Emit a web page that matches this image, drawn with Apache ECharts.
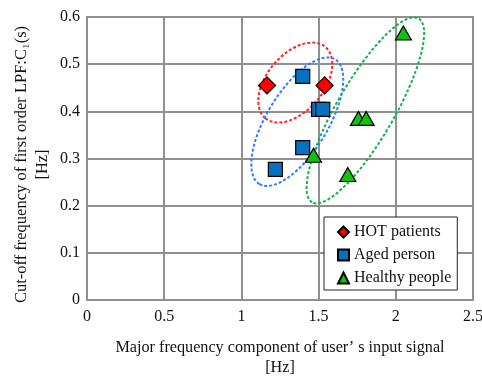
<!DOCTYPE html>
<html>
<head>
<meta charset="utf-8">
<script src="https://cdn.jsdelivr.net/npm/echarts@6/dist/echarts.min.js"></script>
<style>
html,body{margin:0;padding:0;background:#fff;}
#main{width:482px;height:376px;}
</style>
</head>
<body>
<div id="main"></div>
<script>
// tick labels
var xTicks = ['0', '0.5', '1', '1.5', '2', '2.5'];
var yTicks = ['0', '0.1', '0.2', '0.3', '0.4', '0.5', '0.6'];

// HOT patients
var hotX = [1.166, 1.539];
var hotY = [0.455, 0.455];
// Aged person
var agedX = [1.397, 1.500, 1.527, 1.397, 1.220];
var agedY = [0.474, 0.404, 0.404, 0.323, 0.277];
// Healthy people
var healthyX = [2.049, 1.758, 1.808, 1.467, 1.689];
var healthyY = [0.566, 0.385, 0.385, 0.307, 0.266];

var seriesNames = ['HOT patients', 'Aged person', 'Healthy people'];

// group ellipses: centre (data), semi axes and tilt
var ellCx = [1.349, 1.362, 1.803];
var ellCy = [0.461, 0.378, 0.402];
var ellA = [46.6, 72.9, 106.2];
var ellB = [28.2, 30.5, 28.7];
var ellDeg = [49.8, 58.7, 59.9];
var ellColor = ['#ff2222', '#2a7fff', '#14b050'];

function pairs(xs, ys) {
	var out = [];
	for (var i = 0; i < xs.length; i++) {
		out.push([xs[i], ys[i]]);
	}
	return out;
}

var fnt = 'Liberation Serif';
var chart = echarts.init(document.getElementById('main'));

var option = {
	animation: false,
	textStyle: { fontFamily: fnt },
	grid: {
		left: 87,
		right: 9,
		top: 17,
		bottom: 76,
		show: true,
		outerBoundsMode: 'none',
		borderColor: '#909090',
		borderWidth: 2
	},
	xAxis: {
		type: 'value',
		min: 0,
		max: 2.5,
		interval: 0.5,
		name: 'Major frequency component of user\u2019 s input signal\n[Hz]',
		nameLocation: 'middle',
		nameGap: 38,
		nameMoveOverlap: false,
		nameTextStyle: { fontFamily: fnt, fontSize: 16.2, color: '#111', lineHeight: 20 },
		axisLine: { lineStyle: { color: '#909090', width: 2 } },
		axisTick: { show: false },
		axisLabel: {
			margin: 9,
			fontFamily: fnt,
			fontSize: 16,
			color: '#111',
			formatter: function(v) {
				return xTicks[Math.round(v / 0.5)];
			}
		},
		splitLine: { lineStyle: { color: '#909090', width: 2 } }
	},
	yAxis: {
		type: 'value',
		min: 0,
		max: 0.6,
		interval: 0.1,
		name: 'Cut-off frequency of first order LPF:C\u2081(s)\n[Hz]',
		nameLocation: 'middle',
		nameGap: 34,
		nameMoveOverlap: false,
		nameTextStyle: { fontFamily: fnt, fontSize: 16.5, color: '#111', lineHeight: 21, padding: [0, 12, 0, 0] },
		axisLine: { show: true, lineStyle: { color: '#909090', width: 2 } },
		axisTick: { show: false },
		axisLabel: {
			margin: 7,
			fontFamily: fnt,
			fontSize: 16,
			color: '#111',
			formatter: function(v) {
				return yTicks[Math.round(v / 0.1)];
			}
		},
		splitLine: { lineStyle: { color: '#909090', width: 2 } }
	},
	legend: {
		orient: 'vertical',
		left: 324,
		top: 217,
		data: seriesNames,
		backgroundColor: '#fff',
		borderColor: '#222',
		borderWidth: 1,
		borderRadius: 0,
		padding: [7, 6, 4, 13],
		itemWidth: 11,
		itemHeight: 11,
		itemGap: 7,
		textStyle: { fontFamily: fnt, fontSize: 16, color: '#111' }
	},
	series: [{
		name: seriesNames[0],
		type: 'scatter',
		symbol: 'diamond',
		symbolSize: 17,
		data: pairs(hotX, hotY),
		itemStyle: { color: '#ff0000', borderColor: '#000', borderWidth: 1.2, opacity: 1 }
	}, {
		name: seriesNames[1],
		type: 'scatter',
		symbol: 'rect',
		symbolSize: 14,
		data: pairs(agedX, agedY),
		itemStyle: { color: '#0870c0', borderColor: '#000', borderWidth: 1.2, opacity: 1 }
	}, {
		name: seriesNames[2],
		type: 'scatter',
		symbol: 'triangle',
		symbolSize: [16, 14],
		data: pairs(healthyX, healthyY),
		itemStyle: { color: '#12c012', borderColor: '#000', borderWidth: 1.2, opacity: 1 }
	}]
};
chart.setOption(option);

// dashed group ellipses, positioned through the axes
var shapes = [];
for (var i = 0; i < ellCx.length; i++) {
	var p = chart.convertToPixel({ xAxisIndex: 0, yAxisIndex: 0 }, [ellCx[i], ellCy[i]]);
	shapes.push({
		type: 'ellipse',
		x: p[0],
		y: p[1],
		rotation: ellDeg[i] * Math.PI / 180,
		z: 1,
		silent: true,
		shape: { cx: 0, cy: 0, rx: ellA[i], ry: ellB[i] },
		style: { fill: null, stroke: ellColor[i], lineWidth: 2, lineDash: [3, 2] }
	});
}
chart.setOption({ graphic: shapes });
</script>
</body>
</html>
